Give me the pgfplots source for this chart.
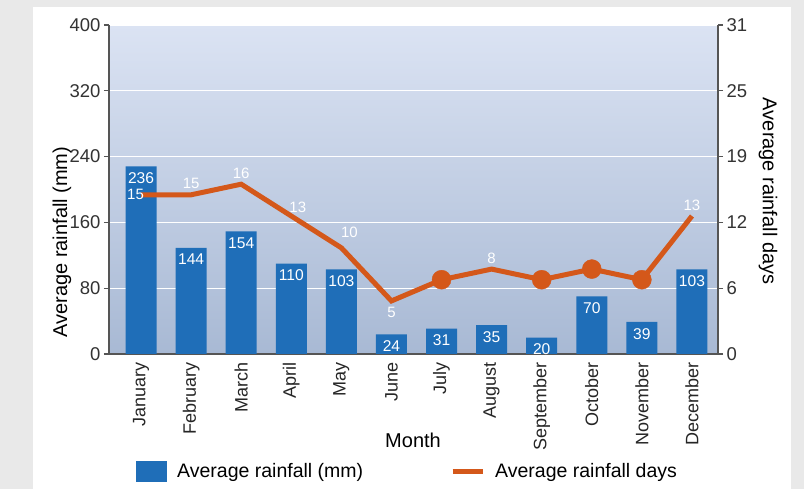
\documentclass[border=0pt]{standalone}
\usepackage{pgfplots}
\pgfplotsset{compat=1.18}
\usepackage{pgfplotstable}
\usepackage{fontspec}
\setmainfont{Liberation Sans}
\definecolor{barblue}{HTML}{1F6EB8}
\definecolor{lineorange}{HTML}{D4581A}
\definecolor{bgtop}{HTML}{DBE3F3}
\definecolor{bgbot}{HTML}{A8B9D4}
\definecolor{outerbg}{HTML}{E9E9E9}
\definecolor{tickgray}{HTML}{333333}
\definecolor{axisgray}{HTML}{555555}

\pgfplotstableread{
x h lab
0 228 236
1 129 144
2 149 154
3 110 110
4 103 103
5 24 24
6 31 31
7 35 35
8 20 20
9 70 70
10 39 39
11 103 103
}\rain

\pgfplotstableread{
x d
0 15
1 15
2 16
3 13
4 10
5 5
6 7
7 8
8 7
9 8
10 7
11 13
}\days

\begin{document}
\begin{tikzpicture}[x=1bp,y=1bp]
\path[use as bounding box] (-109,-135) rectangle (695,354);
\fill[outerbg] (-109,-135) rectangle (695,354);
\fill[white] (-76,-135) rectangle (682,347);
\begin{axis}[
  at={(0,0)}, anchor=south west,
  scale only axis, width=609bp, height=329bp,
  xmin=-0.64, xmax=11.52, ymin=0, ymax=400,
  axis y line*=left, axis x line*=bottom,
  axis line style={axisgray, line width=1.5bp},
  clip=false,
  ytick={0,80,...,400},
  ymajorgrids, grid style={white, line width=1.3bp},
  xtick={0,...,11},
  xticklabels={January,February,March,April,May,June,July,August,September,October,November,December},
  xticklabel style={rotate=90, anchor=east, font=\fontsize{18bp}{20bp}\selectfont, text=black!85},
  major x tick style={draw=none},
  yticklabel style={font=\fontsize{18.5bp}{20bp}\selectfont, text=tickgray},
  /pgf/number format/assume math mode=true,
  tick align=outside, major tick length=5bp,
  major y tick style={axisgray, line width=1.2bp},
  axis background/.style={shade, top color=bgtop, bottom color=bgbot},
  xlabel={Month},
  xlabel style={at={(axis description cs:0.4992,-0.2614)}, anchor=center, font=\fontsize{20bp}{22bp}\selectfont},
  ylabel={Average rainfall (mm)},
  ylabel style={at={(axis description cs:-0.0772,0.34)}, anchor=center, font=\fontsize{20bp}{22bp}\selectfont},
  legend style={draw=none, fill=none, legend columns=2, inner sep=0pt,
    at={(axis description cs:0.0443,-0.357)}, anchor=west,
    font=\fontsize{19.5bp}{21bp}\selectfont, column sep=8bp},
  legend cell align=left,
]
\addplot[ybar, bar width=31bp, fill=barblue, draw=none,
  nodes near coords, point meta=explicit symbolic,
  nodes near coords style={anchor=north, inner sep=0pt, yshift=-6bp, text=white, font=\fontsize{15.6bp}{17bp}\selectfont},
  legend image code/.code={\fill[barblue] (0bp,-10.5bp) rectangle (31bp,10.5bp);}]
  table[x=x, y=h, meta=lab] {\rain};
\addlegendentry{Average rainfall (mm)\rule{77bp}{0pt}}
\addlegendimage{legend image code/.code={\draw[lineorange, line width=5bp] (0bp,0bp) -- (30bp,0bp);}}
\addlegendentry{Average rainfall days}
\end{axis}
\begin{axis}[
  at={(0,0)}, anchor=south west,
  scale only axis, width=609bp, height=329bp,
  xmin=-0.64, xmax=11.52, ymin=0, ymax=31,
  axis x line=none, axis y line*=right,
  axis line style={axisgray, line width=1.5bp},
  clip=false,
  ytick={0,6.2,12.4,18.6,24.8,31},
  yticklabels={0,6,12,19,25,31},
  yticklabel style={font=\fontsize{18.5bp}{20bp}\selectfont, text=tickgray},
  /pgf/number format/assume math mode=true,
  tick align=outside, major tick length=5bp,
  major y tick style={axisgray, line width=1.2bp},
  ylabel={Average rainfall days},
  ylabel style={at={(axis description cs:1.082,0.495)}, anchor=center, rotate=180, font=\fontsize{20bp}{22bp}\selectfont},
]
\addplot[lineorange, line width=5bp, mark=none] table[x=x, y=d] {\days};
\addplot[only marks, mark=*, mark size=9.5bp, color=lineorange, mark options={fill=lineorange, draw=none}]
  coordinates {(6,7) (8,7) (9,8) (10,7)};
% labels above
\addplot[draw=none, mark=none, nodes near coords, point meta=explicit symbolic,
  nodes near coords style={anchor=south, inner sep=0pt, yshift=5.5bp, text=white, font=\fontsize{15bp}{16bp}\selectfont}]
  coordinates {(1,15) [15] (2,16) [16] (7,8) [8] (11,13) [13]};
\addplot[draw=none, mark=none, nodes near coords, point meta=explicit symbolic,
  nodes near coords style={anchor=south, inner sep=0pt, yshift=3.6bp, xshift=6.5bp, text=white, font=\fontsize{15bp}{16bp}\selectfont}]
  coordinates {(3,13) [13]};
\addplot[draw=none, mark=none, nodes near coords, point meta=explicit symbolic,
  nodes near coords style={anchor=south, inner sep=0pt, yshift=10bp, xshift=8bp, text=white, font=\fontsize{15bp}{16bp}\selectfont}]
  coordinates {(4,10) [10]};
\addplot[draw=none, mark=none, nodes near coords, point meta=explicit symbolic,
  nodes near coords style={anchor=north, inner sep=0pt, yshift=-6.5bp, text=white, font=\fontsize{15bp}{16bp}\selectfont}]
  coordinates {(5,5) [5]};
\addplot[draw=none, mark=none, nodes near coords, point meta=explicit symbolic,
  nodes near coords style={anchor=east, inner sep=0pt, xshift=3bp, text=white, font=\fontsize{15bp}{16bp}\selectfont}]
  coordinates {(0,15) [15]};
\end{axis}
\end{tikzpicture}
\end{document}
